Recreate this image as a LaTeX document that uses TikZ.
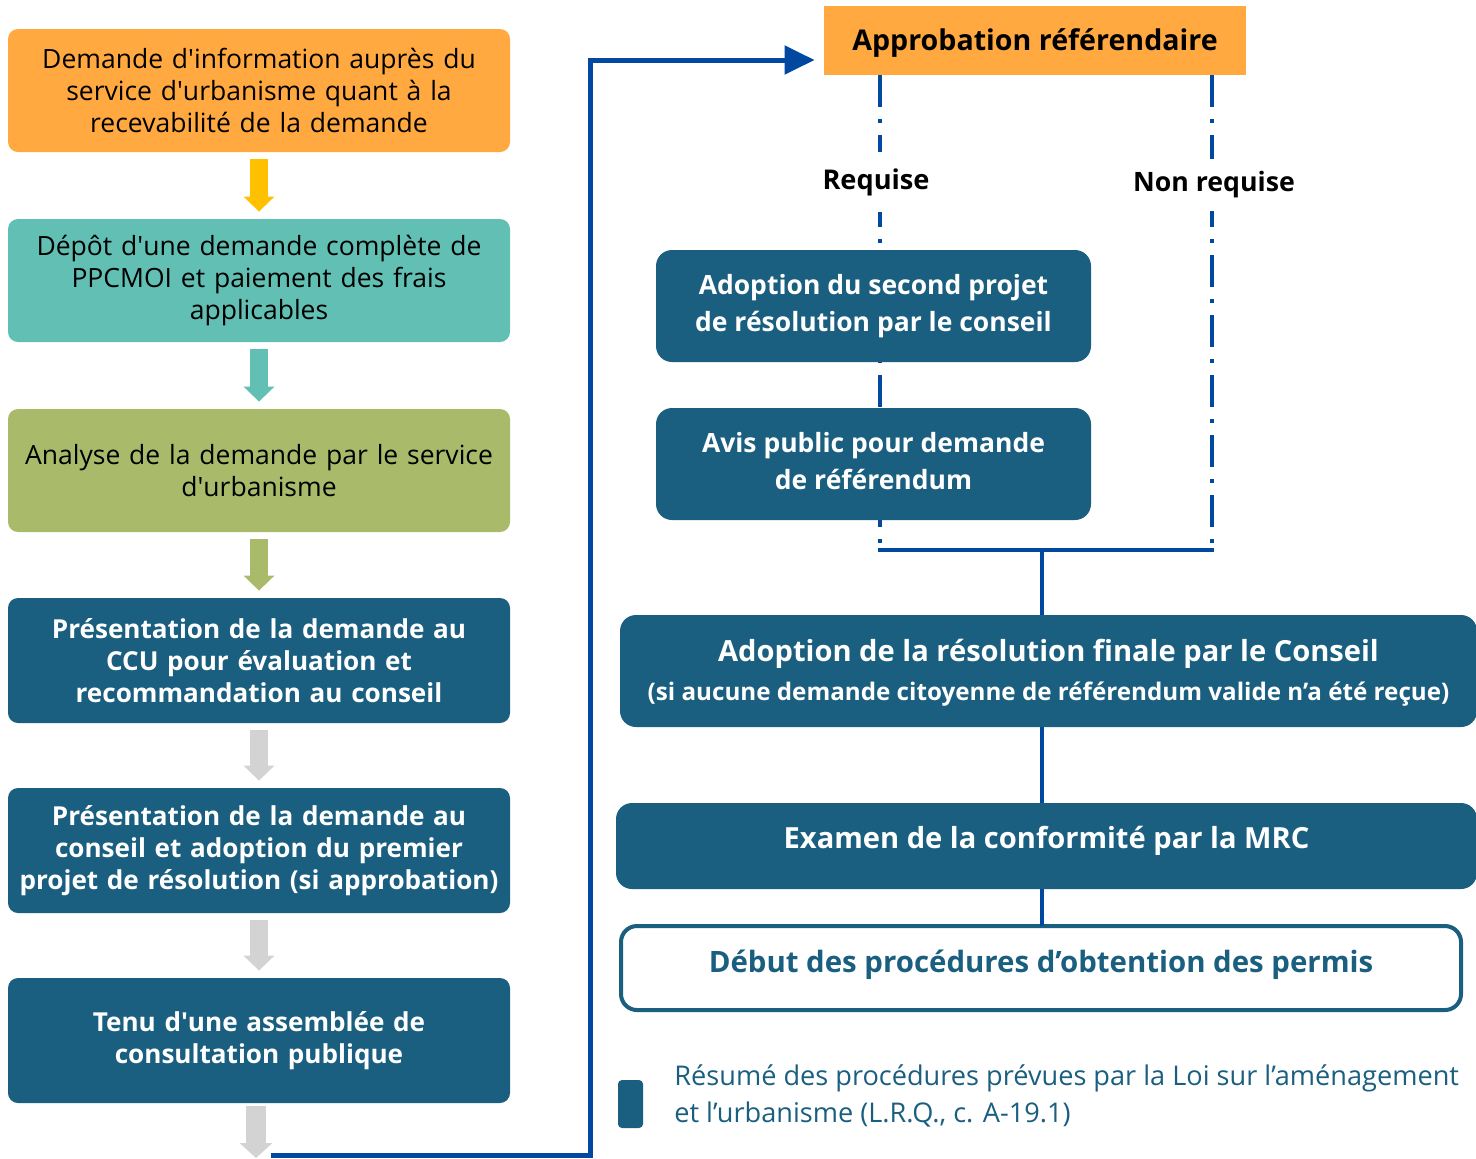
\documentclass[tikz,border=0pt]{standalone}
\usepackage{fontspec}
\setmainfont{Open Sans}
\usetikzlibrary{arrows.meta,calc}
\definecolor{cOrange}{HTML}{FFA940}
\definecolor{cYellow}{HTML}{FFC000}
\definecolor{cTeal}{HTML}{62BFB3}
\definecolor{cGreen}{HTML}{A9BB6A}
\definecolor{cDark}{HTML}{1A5F80}
\definecolor{cGrey}{HTML}{D3D3D3}
\definecolor{cLine}{HTML}{0048A0}
\begin{document}
\begin{tikzpicture}[x=0.5pt,y=-0.5pt,
  lbox/.style={rounded corners=5pt, minimum width=251pt, minimum height=61.5pt, align=center, inner sep=0pt, text width=249pt},
  lnorm/.style={font=\fontsize{13.25}{16}\selectfont, text=black},
  lbold/.style={font=\fontsize{13.05}{16}\selectfont\bfseries, text=white, fill=cDark, minimum height=62.5pt},
  rbox/.style={rounded corners=8pt, fill=cDark, inner sep=0pt, align=center, text=white},
  barrow/.style={line width=9pt, -{Triangle[width=15pt,length=7.5pt]}, shorten <=3.5pt, shorten >=3.5pt},
  dashline/.style={cLine, line width=1.75pt, dash pattern=on 16pt off 6pt on 2pt off 6pt},
  sline/.style={cLine, line width=2pt},
  conn/.style={cLine, line width=2.5pt}
]
\useasboundingbox (0,0) rectangle (1476,1158);

% junction coordinates
\coordinate (j1) at (880,550);
\coordinate (j2) at (1212,550);
\coordinate (jm) at (1042,550);
\coordinate (cstart) at (271,1155);
\coordinate (ctop) at (590,60);
\coordinate (a6end) at (256,1158);

% top box
\node[fill=cOrange, minimum width=211pt, minimum height=34.5pt, inner sep=0pt] (appro) at (1035,40.5) {};
\node[inner sep=0pt, font=\fontsize{14.3}{17}\selectfont\bfseries] at ([yshift=-1pt]appro.center) {Approbation référendaire};

% dashed branches (behind boxes)
\draw[dashline] (appro.south -| j1) -- (j1);
\draw[dashline] (appro.south -| j2) -- (j2);
\draw[sline] ([xshift=-0.875pt]j1) -- ([xshift=0.875pt]j2);

% labels
\node[fill=white, minimum height=30pt, inner sep=2pt, font=\fontsize{13.6}{16}\selectfont\bfseries] (req) at (876,182) {Requise};
\node[fill=white, minimum height=26pt, inner sep=2pt, font=\fontsize{13.35}{16}\selectfont\bfseries] (nreq) at (1214,185) {Non requise};

% right boxes
\node[rbox, minimum width=217.5pt, minimum height=56pt, font=\fontsize{13.25}{18.5}\selectfont\bfseries] (second) at (873.5,306) {Adoption du second projet\\de résolution par le conseil};
\node[rbox, minimum width=217.5pt, minimum height=56pt] (avis) at (873.5,464) {};
\node[text=white, align=center, inner sep=0pt, font=\fontsize{13.25}{18.5}\selectfont\bfseries] at ([yshift=1.5pt]avis.center) {Avis public pour demande\\de référendum};
\node[rbox, minimum width=428.5pt, minimum height=56pt] (finale) at (1048.5,671) {};
\node[text=white, align=center, inner sep=0pt, font=\fontsize{14.55}{19.5}\selectfont\bfseries] at ([yshift=-1pt]finale.center) {Adoption de la résolution finale par le Conseil\\{\fontsize{12.1}{19.5}\selectfont (si aucune demande citoyenne de référendum valide n’a été reçue)}};
\node[rbox, minimum width=430.5pt, minimum height=43pt] (examen) at (1046.5,846) {};
\node[text=white, inner sep=0pt, font=\fontsize{14.55}{17}\selectfont\bfseries] at ([yshift=2.5pt]examen.center) {Examen de la conformité par la MRC};
\node[rounded corners=8pt, draw=cDark, line width=2pt, fill=white, minimum width=420pt, minimum height=42pt, inner sep=0pt] (debut) at (1041,968) {};
\node[text=cDark, inner sep=0pt, font=\fontsize{14.7}{17}\selectfont\bfseries] at ([yshift=1.5pt]debut.center) {Début des procédures d’obtention des permis};

\draw[sline] (jm) -- (finale.north -| jm);
\draw[sline] (finale.south -| jm) -- (examen.north -| jm);
\draw[sline] (examen.south -| jm) -- ([yshift=-1pt]debut.north -| jm);

% left column
\node[lbox, lnorm, fill=cOrange] (b1) at (259,90.5) {Demande d\textquotesingle information auprès du\\service d\textquotesingle urbanisme quant à la\\recevabilité de la demande};
\node[lbox, lnorm, fill=cTeal] (b2) at (259,280.5) {Dépôt d\textquotesingle une demande complète de\\PPCMOI et paiement des frais\\applicables};
\node[lbox, lnorm, fill=cGreen] (b3) at (259,470.5) {Analyse de la demande par le service\\d\textquotesingle urbanisme};
\node[lbox, lbold] (b4) at (259,660.5) {Présentation de la demande au\\CCU pour évaluation et\\recommandation au conseil};
\node[lbox, lbold] (b5) at (259,850.5) {Présentation de la demande au\\conseil et adoption du premier\\projet de résolution (si approbation)};
\node[lbox, lbold] (b6) at (259,1040.5) {Tenu d\textquotesingle une assemblée de\\consultation publique};

\draw[barrow, cYellow] (b1) -- (b2);
\draw[barrow, cTeal] (b2) -- (b3);
\draw[barrow, cGreen] (b3) -- (b4);
\draw[barrow, cGrey] (b4) -- (b5);
\draw[barrow, cGrey] (b5) -- (b6);
\draw[line width=10pt, cGrey, -{Triangle[width=16pt,length=7.5pt]}, shorten <=1.5pt] (b6.south -| a6end) -- (a6end);

% connector to top box
\draw[conn, -{Triangle[width=14pt,length=15pt]}, shorten >=4.5pt] (cstart) -| (ctop) -- (ctop -| appro.west);

% legend
\node[fill=cDark, rounded corners=2pt, minimum width=12.5pt, minimum height=24pt, inner sep=0pt] (leg) at (630.5,1104) {};
\node[anchor=west, align=left, text=cDark, inner sep=0pt, font=\fontsize{13.57}{18.5}\selectfont] (legtxt) at (674,1095.5) {Résumé des procédures prévues par la Loi sur l’aménagement\\et l’urbanisme (L.R.Q., c. A-19.1)};
\end{tikzpicture}
\end{document}
